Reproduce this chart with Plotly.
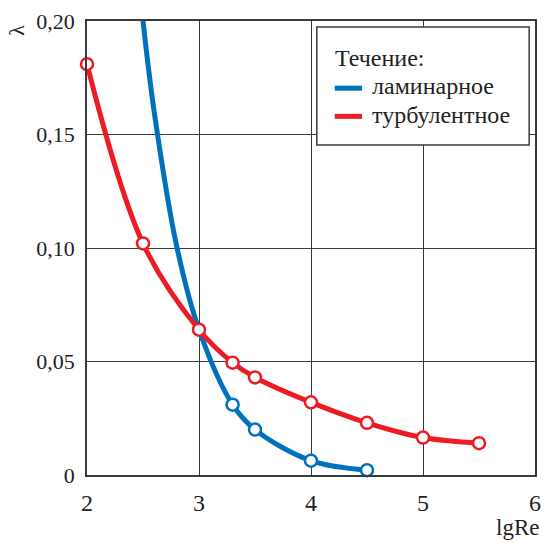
import plotly.graph_objects as go

# Data
lam_line_x = [2.5, 2.6, 2.8, 3.0, 3.3, 3.5, 4.0, 4.5]
lam_line_y = [0.200, 0.160, 0.101, 0.064, 0.031, 0.020, 0.0063, 0.0021]
lam_mark_x = [3.3, 3.5, 4.0, 4.5]
lam_mark_y = [0.031, 0.020, 0.0063, 0.0021]

turb_x = [2.0, 2.5, 3.0, 3.3, 3.5, 4.0, 4.5, 5.0, 5.5]
turb_y = [0.181, 0.102, 0.064, 0.0495, 0.043, 0.032, 0.023, 0.0165, 0.014]

x_ticks = [2, 3, 4, 5, 6]
y_ticks = [0, 0.05, 0.10, 0.15, 0.20]
y_tick_text = ["0", "0,05", "0,10", "0,15", "0,20"]

legend_title = "Течение:"
series_names = ["ламинарное", "турбулентное"]

BLUE = "#0072BC"
RED = "#ED1C24"
FONT = "'Liberation Serif', 'DejaVu Serif', serif"
TXT = "#231f20"
GRID = "#3a3a3a"

fig = go.Figure()
fig.add_trace(go.Scatter(x=lam_line_x, y=lam_line_y, mode="lines",
                         line=dict(color=BLUE, width=5, shape="spline", smoothing=1.0),
                         name=series_names[0], showlegend=False))
fig.add_trace(go.Scatter(x=turb_x, y=turb_y, mode="lines",
                         line=dict(color=RED, width=5, shape="spline", smoothing=1.0),
                         name=series_names[1], showlegend=False, cliponaxis=False))
fig.add_trace(go.Scatter(x=lam_mark_x, y=lam_mark_y, mode="markers",
                         marker=dict(symbol="circle", size=12, color="white",
                                     line=dict(color=BLUE, width=2.5)),
                         showlegend=False, cliponaxis=False))
fig.add_trace(go.Scatter(x=turb_x, y=turb_y, mode="markers",
                         marker=dict(symbol="circle", size=12, color="white",
                                     line=dict(color=RED, width=2.5)),
                         showlegend=False, cliponaxis=False))

axis_common = dict(showgrid=True, gridcolor=GRID, gridwidth=1,
                   showline=True, linecolor=GRID, linewidth=1.5, mirror=True,
                   zeroline=False, ticks="")

# manual legend (paper coordinates)
box = dict(x0=0.513, x1=0.987, y0=0.727, y1=0.987)
shapes = [
    dict(type="rect", xref="paper", yref="paper", fillcolor="white",
         line=dict(color=GRID, width=1.5), layer="above", **box),
    dict(type="line", xref="paper", yref="paper", x0=0.553, x1=0.614, y0=0.852, y1=0.852,
         line=dict(color=BLUE, width=5), layer="above"),
    dict(type="line", xref="paper", yref="paper", x0=0.553, x1=0.614, y0=0.790, y1=0.790,
         line=dict(color=RED, width=5), layer="above"),
]
annotations = [
    dict(text=legend_title, xref="paper", yref="paper", x=0.549, y=0.918,
         xanchor="left", yanchor="middle", showarrow=False,
         font=dict(family=FONT, size=24, color=TXT)),
    dict(text=series_names[0], xref="paper", yref="paper", x=0.632, y=0.856,
         xanchor="left", yanchor="middle", showarrow=False,
         font=dict(family=FONT, size=24, color=TXT)),
    dict(text=series_names[1], xref="paper", yref="paper", x=0.632, y=0.794,
         xanchor="left", yanchor="middle", showarrow=False,
         font=dict(family=FONT, size=24, color=TXT)),
    dict(text="lgRe", xref="paper", yref="paper", x=1.014, y=-0.148,
         xanchor="right", yanchor="bottom", showarrow=False,
         font=dict(family=FONT, size=23, color=TXT)),
    dict(text="λ", xref="paper", yref="paper", x=-0.158, y=0.979,
         xanchor="center", yanchor="middle", showarrow=False, textangle=-90,
         font=dict(family=FONT, size=22, color=TXT)),
]

fig.update_layout(
    width=549, height=543,
    margin=dict(l=87, r=8, t=21, b=68),
    paper_bgcolor="white", plot_bgcolor="white",
    font=dict(family=FONT, color=TXT),
    xaxis=dict(range=[2, 6], tickvals=x_ticks, ticktext=[str(v) for v in x_ticks],
               ticklabelstandoff=5, tickfont=dict(family=FONT, size=24, color=TXT),
               **axis_common),
    yaxis=dict(range=[0, 0.20], tickvals=y_ticks, ticktext=y_tick_text,
               ticklabelstandoff=6, tickfont=dict(family=FONT, size=22, color=TXT),
               **axis_common),
    showlegend=False,
    shapes=shapes,
    annotations=annotations,
)

fig.write_html("out.html")
